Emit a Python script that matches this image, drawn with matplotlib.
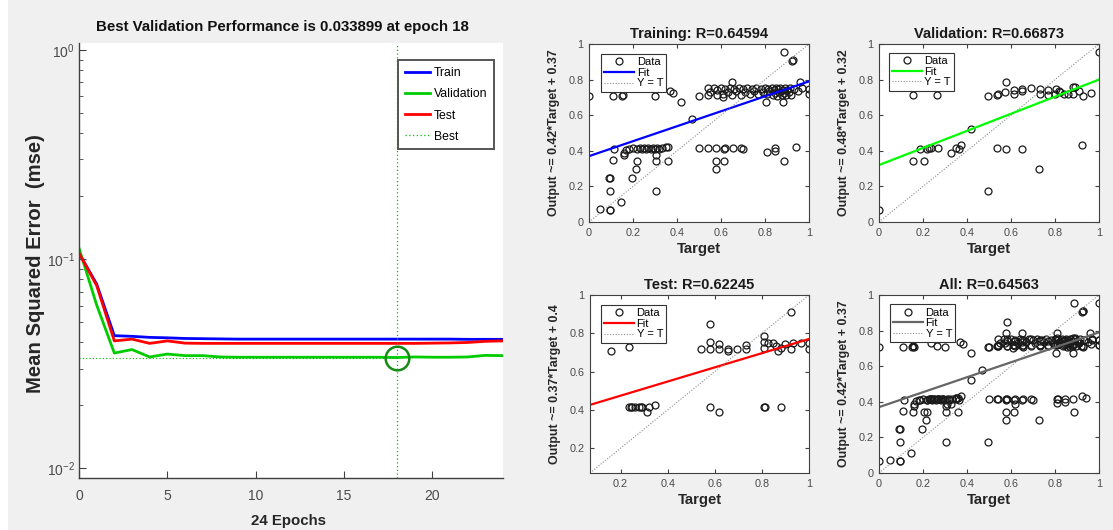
import matplotlib
matplotlib.use("Agg")
import matplotlib.pyplot as plt
from matplotlib import font_manager
from matplotlib.font_manager import FontProperties
from matplotlib.ticker import LogLocator, NullFormatter
from matplotlib.patches import Rectangle

# ---------------------------------------------------------------- data
epochs = list(range(25))
train_mse = [0.107, 0.0761, 0.0431, 0.0428, 0.0423, 0.0421, 0.0418, 0.0417, 0.0416,
             0.0415, 0.0415, 0.0415, 0.0415, 0.0415, 0.0415, 0.0415, 0.0415, 0.0415,
             0.0415, 0.0415, 0.0415, 0.0415, 0.0414, 0.0414, 0.0414]
val_mse = [0.113, 0.0604, 0.0356, 0.0370, 0.0341, 0.0352, 0.0346, 0.0346, 0.0341,
           0.0340, 0.0340, 0.0340, 0.0340, 0.0340, 0.0340, 0.0340, 0.0340, 0.0340,
           0.033899, 0.0341, 0.0340, 0.0340, 0.0341, 0.0347, 0.0346]
test_mse = [0.107, 0.0748, 0.0407, 0.0415, 0.0396, 0.0407, 0.0397, 0.0396, 0.0396,
            0.0396, 0.0396, 0.0396, 0.0396, 0.0396, 0.0396, 0.0396, 0.0396, 0.0396,
            0.0396, 0.0396, 0.0397, 0.0398, 0.0400, 0.0405, 0.0407]
best_epoch = 18
best_perf = 0.033899

train_target = [0.00, 0.11, 0.15, 0.155, 0.30, 0.37, 0.38, 0.42, 0.47, 0.50,
                0.54, 0.54, 0.55, 0.57, 0.58, 0.58, 0.60, 0.61, 0.61, 0.62,
                0.63, 0.64, 0.65, 0.65, 0.66, 0.67, 0.68, 0.69, 0.70, 0.71,
                0.72, 0.73, 0.74, 0.75, 0.76, 0.77, 0.78, 0.79, 0.80, 0.805,
                0.81, 0.815, 0.82, 0.83, 0.835, 0.84, 0.845, 0.85, 0.855, 0.86,
                0.865, 0.87, 0.875, 0.88, 0.88, 0.885, 0.885, 0.89, 0.895, 0.90,
                0.91, 0.915, 0.92, 0.924, 0.925, 0.93, 0.95, 0.96, 0.97, 1.00, 1.00,
                0.05, 0.096, 0.097, 0.145, 0.097, 0.305, 0.089, 0.096, 0.194, 0.214,
                0.218, 0.11, 0.305, 0.358, 0.305, 0.16, 0.16, 0.115, 0.17, 0.18,
                0.20, 0.22, 0.23, 0.24, 0.25, 0.26, 0.27, 0.28, 0.29, 0.30,
                0.31, 0.32, 0.33, 0.35, 0.36,
                0.50, 0.54, 0.577, 0.612, 0.62, 0.653, 0.69, 0.698,
                0.577, 0.612, 0.577, 0.809, 0.845, 0.847, 0.886, 0.941]
train_output = [0.71, 0.71, 0.71, 0.715, 0.71, 0.735, 0.725, 0.675, 0.58, 0.71,
                0.755, 0.715, 0.73, 0.755, 0.715, 0.74, 0.755, 0.72, 0.705, 0.745,
                0.73, 0.755, 0.785, 0.715, 0.745, 0.735, 0.755, 0.715, 0.745, 0.73,
                0.755, 0.72, 0.745, 0.735, 0.755, 0.72, 0.745, 0.73, 0.755, 0.675,
                0.72, 0.745, 0.735, 0.755, 0.715, 0.74, 0.725, 0.755, 0.71, 0.745,
                0.73, 0.755, 0.715, 0.74, 0.675, 0.725, 0.953, 0.755, 0.715, 0.74,
                0.73, 0.755, 0.715, 0.906, 0.91, 0.745, 0.735, 0.785, 0.755, 0.75, 0.717,
                0.071, 0.069, 0.07, 0.114, 0.176, 0.176, 0.245, 0.245, 0.245, 0.30,
                0.343, 0.348, 0.343, 0.343, 0.376, 0.376, 0.39, 0.41, 0.405, 0.41,
                0.415, 0.41, 0.415, 0.41, 0.415, 0.41, 0.415, 0.41, 0.415, 0.41,
                0.415, 0.41, 0.415, 0.42, 0.42,
                0.415, 0.415, 0.415, 0.41, 0.415, 0.415, 0.415, 0.41,
                0.343, 0.343, 0.298, 0.393, 0.414, 0.40, 0.343, 0.419]

val_target = [0.00, 0.155, 0.265, 0.155, 0.205, 0.188, 0.218, 0.228, 0.238, 0.268,
              0.329, 0.352, 0.364, 0.374, 0.42, 0.495, 0.536, 0.54, 0.576, 0.574,
              0.614, 0.614, 0.65, 0.65, 0.689, 0.73, 0.73, 0.768, 0.768, 0.798,
              0.803, 0.817, 0.822, 0.841, 0.859, 0.882, 0.892, 0.882, 0.909, 0.927,
              0.965, 1.00, 0.536, 0.576, 0.65, 0.923, 0.726, 0.495]
val_output = [0.066, 0.711, 0.711, 0.34, 0.34, 0.411, 0.411, 0.415, 0.416, 0.415,
              0.388, 0.418, 0.41, 0.435, 0.525, 0.709, 0.713, 0.718, 0.784, 0.732,
              0.741, 0.719, 0.747, 0.735, 0.752, 0.745, 0.719, 0.741, 0.715, 0.72,
              0.75, 0.735, 0.728, 0.72, 0.72, 0.76, 0.758, 0.717, 0.737, 0.709,
              0.726, 0.953, 0.415, 0.41, 0.41, 0.432, 0.296, 0.174]

test_target = [0.158, 0.235, 0.58, 0.58, 0.541, 0.58, 0.618, 0.618, 0.655, 0.655,
               0.693, 0.731, 0.731, 0.81, 0.81, 0.81, 0.827, 0.845, 0.86, 0.869,
               0.883, 0.90, 0.925, 0.925, 0.93, 0.968, 1.00, 1.00,
               0.235, 0.242, 0.249, 0.263, 0.277, 0.285, 0.292, 0.31, 0.32, 0.348,
               0.58, 0.618, 0.81, 0.812, 0.883]
test_output = [0.71, 0.73, 0.846, 0.754, 0.716, 0.716, 0.742, 0.716, 0.72, 0.708,
               0.72, 0.74, 0.716, 0.786, 0.756, 0.724, 0.75, 0.75, 0.733, 0.708,
               0.724, 0.742, 0.716, 0.909, 0.75, 0.75, 0.75, 0.72,
               0.416, 0.416, 0.416, 0.416, 0.416, 0.416, 0.416, 0.39, 0.416, 0.423,
               0.416, 0.39, 0.416, 0.416, 0.416]

all_target = train_target + val_target + test_target
all_output = train_output + val_output + test_output

# fit coefficients (slope, intercept) as printed on each panel
fit_train = (0.42, 0.37)
fit_val = (0.48, 0.32)
fit_test = (0.37, 0.4)
fit_all = (0.42, 0.37)

# ---------------------------------------------------------------- fonts
available = {f.name for f in font_manager.fontManager.ttflist}
HAS_NARROW = "Liberation Sans Narrow" in available
NARROW = "Liberation Sans Narrow" if HAS_NARROW else "Liberation Sans"
SANS = "Liberation Sans"
NS = 1.0 if HAS_NARROW else 0.84   # size factor so the narrow-styled texts keep their width
plt.rcParams["font.family"] = [SANS, "DejaVu Sans"]

W, H = 1113, 530
fig = plt.figure(figsize=(W / 100, H / 100), dpi=100, facecolor="#f0f0f0")


def box(left, top, right, bottom):
    return [left / W, 1 - bottom / H, (right - left) / W, (bottom - top) / H]


fig.patches.append(Rectangle((0, 0), 8 / W, 1, transform=fig.transFigure,
                             facecolor="white", edgecolor="none", zorder=-1))

# ---------------------------------------------------------------- performance plot
ax = fig.add_axes(box(79, 43, 503, 478))
ax.set_yscale("log")
ax.plot(epochs, train_mse, color=(0, 0, 1), lw=2.0, label="Train")
ax.plot(epochs, val_mse, color=(0, 0.8, 0), lw=2.0, label="Validation")
ax.plot(epochs, test_mse, color=(1, 0, 0), lw=2.0, label="Test")
ax.axvline(best_epoch, color=(0, 0.75, 0), lw=0.9, ls=(0, (1, 2)), label="Best")
ax.plot([0, best_epoch], [best_perf, best_perf], color=(0, 0.7, 0), lw=0.8, ls=(0, (1, 2)))
ax.plot([best_epoch], [best_perf], "o", mfc="none", mec="#148c14", ms=17, mew=1.8)
ax.set_xlim(0, 24)
ax.set_ylim(0.009, 1.08)
for side in ("top", "right"):
    ax.spines[side].set_visible(False)
for side in ("left", "bottom"):
    ax.spines[side].set_color("#404040")
    ax.spines[side].set_linewidth(1.0)
ax.set_xticks([0, 5, 10, 15, 20])
ax.yaxis.set_major_locator(LogLocator(base=10, numticks=5))
ax.yaxis.set_minor_locator(LogLocator(base=10, subs=(2, 3, 4, 5, 6, 7, 8, 9), numticks=12))
ax.yaxis.set_minor_formatter(NullFormatter())
ax.tick_params(which="both", direction="in", color="#404040", labelcolor="#4a4a4a",
               labelfontfamily=NARROW, labelsize=10 if not HAS_NARROW else 10.5)
ax.tick_params(which="major", length=5)
ax.tick_params(which="minor", length=3)
ax.tick_params(axis="x", pad=8)
ax.tick_params(axis="y", pad=3)

leg = ax.legend(loc="upper left", bbox_to_anchor=(0.752, 0.960), borderaxespad=0,
                fancybox=False, edgecolor="#555555", framealpha=1,
                prop=FontProperties(family=NARROW, size=10.5 * NS),
                handlelength=2.1, handletextpad=0.3, labelspacing=0.75, borderpad=0.55)
leg.get_frame().set_linewidth(1.4)

fig.text(282 / W, 1 - 27.5 / H, "Best Validation Performance is 0.033899 at epoch 18",
         ha="center", va="center", fontsize=11.5 * (1.0 if HAS_NARROW else 0.94),
         fontweight="bold", family=NARROW, color="#111111")
fig.text(36 / W, 1 - 264 / H, "Mean Squared Error  (mse)", rotation=90,
         ha="center", va="center", fontsize=14.6, fontweight="bold", family=SANS, color="#262626")
fig.text(289 / W, 1 - 521 / H, "24 Epochs", ha="center", va="center",
         fontsize=13 * (1.0 if HAS_NARROW else 0.83), fontweight="bold", family=NARROW,
         color="#262626")


# ---------------------------------------------------------------- regression plots
def regression_panel(rect, target, output, fit, color, title, lim, ticks, legend_xy):
    slope, intercept = fit
    a = fig.add_axes(rect)
    a.plot(target, output, "o", mfc="none", mec="#1a1a1a", ms=5, mew=0.9, label="Data")
    a.plot(lim, [slope * v + intercept for v in lim], color=color, lw=1.6, label="Fit")
    a.plot(lim, lim, ls=(0, (1, 1.5)), color="#8c8c8c", lw=0.8, label="Y = T")
    a.set_xlim(lim)
    a.set_ylim(lim)
    labels = ["0" if t == 0 else ("1" if t == 1 else f"{t:.1f}") for t in ticks]
    a.set_xticks(ticks, labels)
    a.set_yticks(ticks, labels)
    a.tick_params(direction="in", length=3, top=True, right=True, color="#404040",
                  labelcolor="#4a4a4a", labelsize=7.8, pad=4)
    for s in a.spines.values():
        s.set_color("#404040")
        s.set_linewidth(0.8)
    a.set_title(title, fontsize=10.5, fontweight="bold", pad=4, color="#1a1a1a")
    a.set_xlabel("Target", fontsize=10.7, fontweight="bold", color="#262626")
    a.xaxis.set_label_coords(0.5, -0.15)
    a.xaxis.label.set_va("center")
    a.set_ylabel(f"Output ~= {slope:g}*Target + {intercept:g}", fontsize=8.9,
                 fontweight="bold", color="#262626")
    a.yaxis.set_label_coords(-0.16, 0.5)
    a.yaxis.label.set_va("center")
    lg = a.legend(loc="upper left", bbox_to_anchor=legend_xy, borderaxespad=0,
                  fancybox=False, edgecolor="#333333", framealpha=1,
                  prop=FontProperties(family=SANS, size=8), handlelength=2.7,
                  handletextpad=0.2, labelspacing=0.05, borderpad=0.3)
    lg.get_frame().set_linewidth(0.8)
    return a


full = [0, 0.2, 0.4, 0.6, 0.8, 1]
regression_panel(box(589, 44, 809, 222), train_target, train_output, fit_train, (0, 0, 1),
                 "Training: R=0.64594", (0, 1), full, (0.055, 0.944))
regression_panel(box(879, 44, 1099, 222), val_target, val_output, fit_val, (0, 1, 0),
                 "Validation: R=0.66873", (0, 1), full, (0.045, 0.95))
regression_panel(box(590, 295, 809, 473), test_target, test_output, fit_test, (1, 0, 0),
                 "Test: R=0.62245", (0.07, 1), [0.2, 0.4, 0.6, 0.8, 1], (0.05, 0.944))
regression_panel(box(879, 295, 1099, 473), all_target, all_output, fit_all, (0.4, 0.4, 0.4),
                 "All: R=0.64563", (0, 1), full, (0.05, 0.947))

fig.savefig("out.png", dpi=100, facecolor=fig.get_facecolor())
